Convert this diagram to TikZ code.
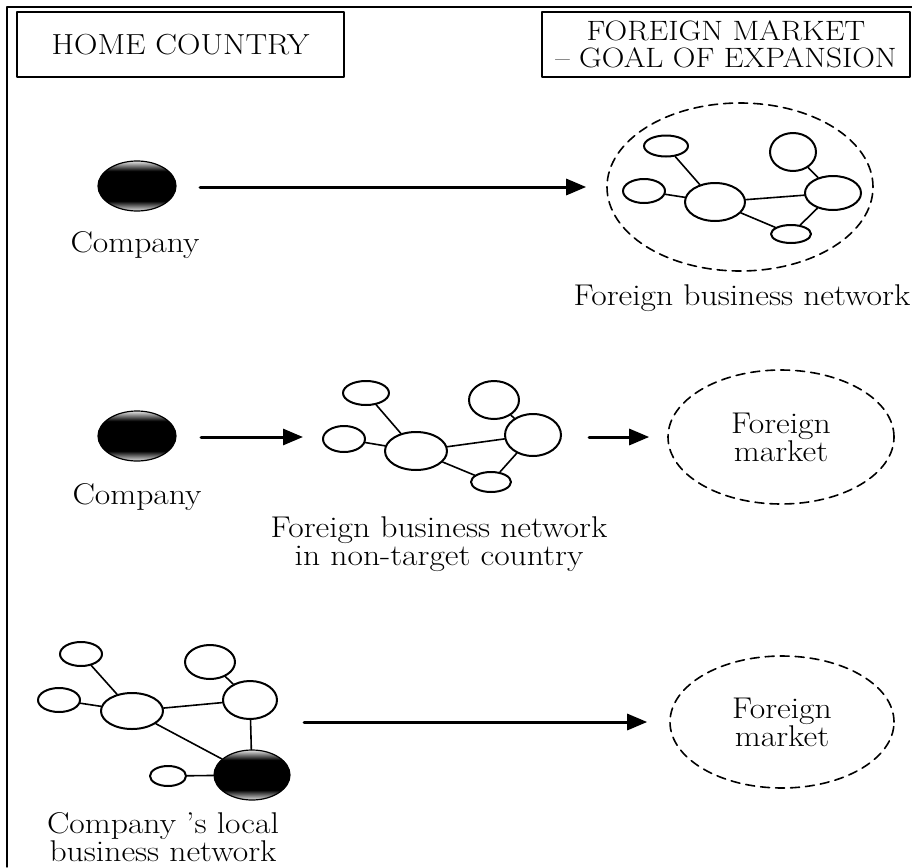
\documentclass[tikz,border=0pt]{standalone}
\usepackage{fontspec}
\setmainfont{Latin Modern Roman}[FakeStretch=1.12]
\usepackage{tikz}
\usetikzlibrary{arrows.meta,shapes.geometric}
% black body with lighter rims for the company
\pgfdeclareverticalshading{firmshade}{100bp}{color(0bp)=(gray!20); color(25bp)=(gray!20); color(35bp)=(black); color(65bp)=(black); color(75bp)=(gray!20); color(100bp)=(gray!20)}

\begin{document}
\begin{tikzpicture}[x=1pt,y=-1pt,line cap=round,line join=round,
        hub/.style={draw,ellipse,line width=2pt,inner sep=0pt},
        firm/.style={draw,ellipse,line width=1.2pt,shading=firmshade,inner sep=0pt,minimum width=78pt,minimum height=50pt},
        market/.style={draw,ellipse,dash pattern=on 9pt off 6pt,line width=1.6pt,inner sep=0pt,align=center,font=\fontsize{30}{26}\selectfont},
        link/.style={line width=1.6pt},
        flow/.style={line width=3pt,-{Triangle[length=20pt,width=16pt]}},
        head/.style={draw,line width=1.4pt,inner sep=0pt,align=center,font=\fontsize{28}{27}\selectfont},
        lbl/.style={align=center,font=\fontsize{30}{27.5}\selectfont}]
        \useasboundingbox (0,0) rectangle (912,867);
        \draw [line width=1.4pt] (7,867) -- (7,7) -- (912,7);
        \node [head,minimum width=327pt,minimum height=65pt,font=\fontsize{29}{29}\selectfont] (home) at (180.5,44.5) {HOME COUNTRY};
        \node [head,minimum width=368pt,minimum height=65pt] (goal) at (726,44.5) {FOREIGN MARKET\\-- GOAL OF EXPANSION};
        % row 1
        \node [firm] (firmA) at (137,186) {};
        \node [lbl,anchor=base] (firmAl) at (135,252) {Company};
        \node [market,minimum width=266pt,minimum height=168pt] (netA) at (740,187) {};
        \node [hub,minimum width=44pt,minimum height=21pt] (a1) at (666,146) {};
        \node [hub,minimum width=42pt,minimum height=24pt] (a2) at (644,191) {};
        \node [hub,minimum width=60pt,minimum height=38pt] (a3) at (715,202) {};
        \node [hub,minimum width=46pt,minimum height=38pt] (a4) at (793,152) {};
        \node [hub,minimum width=56pt,minimum height=34pt] (a5) at (833,193) {};
        \node [hub,minimum width=40pt,minimum height=18pt] (a6) at (791,234) {};
        \draw [link] (a1) -- (a3);
        \draw [link] (a2) -- (a3);
        \draw [link] (a3) -- (a5);
        \draw [link] (a3) -- (a6);
        \draw [link] (a4) -- (a5);
        \draw [link] (a5) -- (a6);
        \node [lbl,anchor=base] (netAl) at (742,305) {Foreign business network};
        \coordinate (fromA) at (200,187);
        \draw [flow,shorten >=20pt] (fromA) -- (netA);
        % row 2
        \node [firm] (firmB) at (137,436) {};
        \node [lbl,anchor=base] (firmBl) at (137,504) {Company};
        \node [hub,minimum width=46pt,minimum height=24pt] (b1) at (366,393) {};
        \node [hub,minimum width=42pt,minimum height=26pt] (b2) at (344,439) {};
        \node [hub,minimum width=62pt,minimum height=38pt] (b3) at (416,451) {};
        \node [hub,minimum width=50pt,minimum height=38pt] (b4) at (494,400) {};
        \node [hub,minimum width=56pt,minimum height=42pt] (b5) at (533,435) {};
        \node [hub,minimum width=40pt,minimum height=20pt] (b6) at (491,482) {};
        \draw [link] (b1) -- (b3);
        \draw [link] (b2) -- (b3);
        \draw [link] (b3) -- (b5);
        \draw [link] (b3) -- (b6);
        \draw [link] (b4) -- (b5);
        \draw [link] (b5) -- (b6);
        \node [lbl,anchor=base] (netBl) at (439,565) {Foreign business network\\in non-target country};
        \node [market,minimum width=226pt,minimum height=134pt] (mktB) at (781,437) {Foreign\\market};
        \coordinate (fromB) at (201,437);
        \coordinate (toB) at (303,437);
        \coordinate (fromB2) at (589,437);
        \draw [flow] (fromB) -- (toB);
        \draw [flow,shorten >=18pt] (fromB2) -- (mktB);
        % row 3
        \node [hub,minimum width=42pt,minimum height=24pt] (c1) at (81,654) {};
        \node [hub,minimum width=42pt,minimum height=24pt] (c2) at (59,700) {};
        \node [hub,minimum width=62pt,minimum height=36pt] (c3) at (132,711) {};
        \node [hub,minimum width=50pt,minimum height=34pt] (c4) at (210,662) {};
        \node [hub,minimum width=54pt,minimum height=38pt] (c5) at (250,700) {};
        \node [hub,minimum width=36pt,minimum height=20pt] (c6) at (168,776) {};
        \node [firm,minimum width=76pt] (firmC) at (252,775) {};
        \draw [link] (c1) -- (c3);
        \draw [link] (c2) -- (c3);
        \draw [link] (c3) -- (c5);
        \draw [link] (c4) -- (c5);
        \draw [link] (c3) -- (firmC);
        \draw [link] (c5) -- (firmC);
        \draw [link] (c6) -- (firmC);
        \node [lbl,anchor=base] (firmCl) at (163,861) {Company ’s local\\business network};
        \node [market,minimum width=224pt,minimum height=132pt] (mktC) at (782,722) {Foreign\\market};
        \coordinate (fromC) at (304,722);
        \draw [flow,shorten >=22pt] (fromC) -- (mktC);
\end{tikzpicture}
\end{document}
